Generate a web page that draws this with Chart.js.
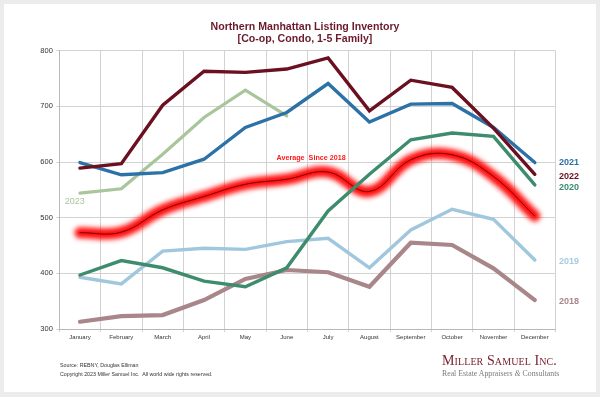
<!DOCTYPE html>
<html>
<head>
<meta charset="utf-8">
<script src="https://cdn.jsdelivr.net/npm/chart.js@4"></script>
<style>
  html, body { margin: 0; padding: 0; background: #ececec; }
  #wrap { position: relative; width: 600px; height: 397px; overflow: hidden; }
  #card { position: absolute; left: 4px; top: 4px; width: 592px; height: 388px; background: #ffffff; }
  #c { position: absolute; left: 0; top: 0; }
  .src { position: absolute; left: 60px; font-family: 'Liberation Sans', Arial, sans-serif; font-size: 5.3px; color: #333; white-space: nowrap; }
  #logo1 { position: absolute; left: 442px; top: 352.5px; font-family: 'Liberation Serif', 'Times New Roman', serif; font-variant: small-caps; font-size: 14px; color: #7a2230; white-space: nowrap; letter-spacing: 0.1px; }
  #logo2 { position: absolute; left: 442px; top: 368.5px; font-family: 'Liberation Serif', 'Times New Roman', serif; font-size: 7.8px; color: #7a7a7a; white-space: nowrap; }
</style>
</head>
<body>
<div id="wrap">
  <div id="card"></div>
  <canvas id="c" width="600" height="397"></canvas>
  <div class="src" style="top:362px">Source: REBNY, Douglas Elliman</div>
  <div class="src" style="top:371px">Copyright 2023 Miller Samuel Inc.&nbsp; All world wide rights reserved.</div>
  <div id="logo1">Miller Samuel Inc.</div>
  <div id="logo2">Real Estate Appraisers <i>&amp;</i> Consultants</div>
</div>
<script>
const months = ['January','February','March','April','May','June','July','August','September','October','November','December'];
const yTicks = [300, 400, 500, 600, 700, 800];
const y2018 = [313, 323, 325, 352, 390, 406, 402, 376, 455, 451, 409, 352];
const y2019 = [393, 381, 440, 445, 443, 457, 463, 410, 478, 515, 497, 424];
const y2020 = [397, 423, 410, 386, 376, 410, 512, 578, 640, 652, 646, 559];
const y2021 = [599, 577, 581, 605, 662, 689, 741, 672, 704, 705, 662, 599];
const y2022 = [589, 597, 702, 763, 761, 767, 787, 692, 747, 734, 661, 578];
const y2023 = [544, 552, 614, 680, 729, 683, null, null, null, null, null, null];
const avgSince2018 = [473, 474, 514, 538, 560, 569, 582, 547, 604, 613, 574, 503];

const FONT = "'Liberation Sans', Arial, sans-serif";

const glowPlugin = {
  id: 'glow',
  beforeDatasetDraw(chart, args) {
    const ds = chart.data.datasets[args.index];
    if (ds._glow) { chart.ctx.save(); chart.ctx.filter = 'blur(2.6px)'; }
  },
  afterDatasetDraw(chart, args) {
    const ds = chart.data.datasets[args.index];
    if (ds._glow) { chart.ctx.restore(); }
  }
};

const textPlugin = {
  id: 'texts',
  afterDatasetsDraw(chart) {
    const ctx = chart.ctx;
    const a = chart.chartArea;
    ctx.save();
    ctx.fillStyle = '#6b1a2b';
    ctx.textAlign = 'center';
    ctx.textBaseline = 'middle';
    ctx.font = 'bold 10.6px ' + FONT;
    ctx.fillText('Northern Manhattan Listing Inventory', 305, 27);
    ctx.fillText('[Co-op, Condo, 1-5 Family]', 305, 39.5);
    ctx.textAlign = 'left';
    const lab = [
      ['2021', '#2f70a4', 162.5, true],
      ['2022', '#6b1020', 177, true],
      ['2020', '#3d8c6e', 188, true],
      ['2019', '#a6cbe0', 262, true],
      ['2018', '#a88689', 302, true]
    ];
    lab.forEach(l => {
      ctx.font = (l[3] ? 'bold ' : '') + '9px ' + FONT;
      ctx.fillStyle = l[1];
      ctx.fillText(l[0], a.right + 3.5, l[2]);
    });
    ctx.font = '9px ' + FONT;
    ctx.fillStyle = '#a9c59b';
    ctx.fillText('2023', a.left + 5.5, 202);
    ctx.font = 'bold 7.2px ' + FONT;
    ctx.fillStyle = '#ff1a1a';
    ctx.fillText('Average  Since 2018', 276.5, 158);
    ctx.restore();
  }
};

function line(data, color, width, order) {
  return {
    data: data, borderColor: color, backgroundColor: color, borderWidth: width,
    pointRadius: 0, tension: 0, fill: false, order: order,
    borderCapStyle: 'round', borderJoinStyle: 'miter', spanGaps: false
  };
}

const glowDs = Object.assign(line(avgSince2018, 'rgba(255,0,0,0.95)', 11, 20), { tension: 0.4, _glow: true, borderCapStyle: 'round', borderJoinStyle: 'round' });
const coreDs = Object.assign(line(avgSince2018, '#7a0000', 1, 19), { tension: 0.4 });

new Chart(document.getElementById('c'), {
  type: 'line',
  data: {
    labels: months,
    datasets: [
      Object.assign(line(y2022, '#6b1020', 3.4, 0), { label: '2022' }),
      Object.assign(line(y2021, '#2d72a6', 3.4, 1), { label: '2021' }),
      Object.assign(line(y2020, '#3d8c6e', 3.4, 2), { label: '2020' }),
      Object.assign(line(y2023, '#a9c59b', 3.2, 3), { label: '2023' }),
      Object.assign(line(y2019, '#a0c7dd', 3.4, 4), { label: '2019' }),
      Object.assign(line(y2018, '#a88689', 4.2, 5), { label: '2018' }),
      Object.assign(coreDs, { label: 'Average Since 2018' }),
      Object.assign(glowDs, { label: 'Average Since 2018 glow' })
    ]
  },
  options: {
    responsive: false,
    animation: false,
    devicePixelRatio: 1,
    layout: { padding: { left: 0, right: 44.5, top: 50.7, bottom: 0 } },
    plugins: { legend: { display: false }, title: { display: false }, tooltip: { enabled: false } },
    scales: {
      x: {
        offset: true,
        grid: { offset: true, color: '#d2d2d2', lineWidth: 1, tickLength: 3 },
        border: { color: '#b8b8b8' },
        ticks: { font: { family: FONT, size: 6 }, color: '#333', padding: 2, maxRotation: 0, autoSkip: false },
        afterFit(scale) { scale.height = 68; }
      },
      y: {
        min: 300, max: 800,
        afterBuildTicks(scale) { scale.ticks = yTicks.map(v => ({ value: v })); },
        grid: { color: '#d2d2d2', lineWidth: 1, tickLength: 3 },
        border: { color: '#b8b8b8' },
        ticks: { font: { family: FONT, size: 7.5 }, color: '#333', padding: 3.5 },
        afterFit(scale) { scale.width = 59.3; }
      }
    }
  },
  plugins: [glowPlugin, textPlugin]
});
</script>
</body>
</html>
